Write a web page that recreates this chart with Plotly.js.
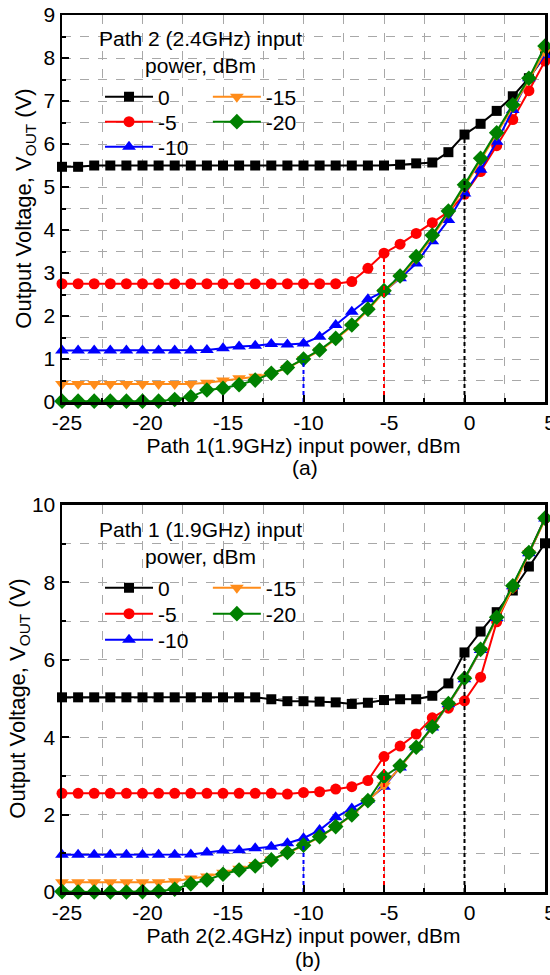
<!DOCTYPE html>
<html><head><meta charset="utf-8">
<script src="https://cdn.plot.ly/plotly-3.0.1.min.js"></script>
<style>html,body{margin:0;padding:0;background:#fff;} #chart{width:550px;height:975px;}</style>
</head><body><div id="chart"></div>
<script>
// Input power (dBm) on the x axis
const power = [-25,-24,-23,-22,-21,-20,-19,-18,-17,-16,-15,-14,-13,-12,-11,-10,-9,-8,-7,-6,-5,-4,-3,-2,-1,0,1,2,3,4,5];
const seriesNames = ['0','-5','-10','-15','-20'];
const xTickVals = [-25,-20,-15,-10,-5,0,5];
const xTickText = ['-25','-20','-15','-10','-5','0','5'];

// (a) Path 2 (2.4GHz) input power as parameter, sweep Path 1
const a0  = [5.47,5.47,5.50,5.50,5.50,5.50,5.50,5.50,5.50,5.50,5.50,5.50,5.50,5.50,5.50,5.50,5.50,5.50,5.50,5.50,5.50,5.52,5.55,5.57,5.81,6.22,6.47,6.77,7.11,7.53,8.05];
const a5  = [2.75,2.75,2.75,2.75,2.75,2.75,2.75,2.75,2.75,2.75,2.75,2.75,2.75,2.75,2.75,2.75,2.75,2.75,2.80,3.11,3.46,3.67,3.92,4.17,4.42,4.83,5.36,5.96,6.57,7.24,7.93];
const a10 = [1.20,1.20,1.20,1.20,1.20,1.20,1.20,1.20,1.20,1.21,1.25,1.29,1.31,1.35,1.34,1.36,1.52,1.79,2.10,2.39,2.57,2.88,3.22,3.74,4.23,4.85,5.40,6.05,6.79,7.53,8.07];
const a15 = [0.42,0.42,0.42,0.42,0.42,0.42,0.42,0.42,0.42,0.45,0.50,0.55,0.59,0.66,0.79,0.99,1.19,1.46,1.76,2.13,2.56,2.90,3.34,3.84,4.40,5.00,5.62,6.21,6.86,7.49,8.15];
const a20 = [0.02,0.02,0.02,0.02,0.02,0.02,0.02,0.06,0.12,0.28,0.32,0.40,0.51,0.67,0.80,1.00,1.21,1.48,1.79,2.16,2.59,2.93,3.38,3.88,4.44,5.05,5.67,6.26,6.91,7.53,8.28];

// (b) Path 1 (1.9GHz) input power as parameter, sweep Path 2
const b0  = [5.03,5.03,5.03,5.03,5.03,5.03,5.03,5.03,5.03,5.03,5.03,5.03,5.03,4.98,4.93,4.93,4.92,4.90,4.86,4.89,4.96,4.98,4.98,5.07,5.39,6.19,6.73,7.23,7.79,8.41,9.01];
const b5  = [2.55,2.55,2.55,2.55,2.55,2.55,2.55,2.55,2.55,2.55,2.55,2.55,2.55,2.55,2.53,2.57,2.59,2.66,2.72,2.88,3.50,3.77,4.08,4.50,4.75,4.94,5.55,6.98,7.88,8.78,9.65];
const b10 = [0.96,0.96,0.96,0.96,0.96,0.96,0.96,0.96,0.97,1.02,1.07,1.08,1.13,1.17,1.26,1.39,1.60,1.93,2.16,2.38,2.72,3.22,3.74,4.25,4.85,5.50,6.25,7.08,7.90,8.75,9.65];
const b15 = [0.25,0.25,0.25,0.25,0.25,0.25,0.25,0.28,0.35,0.40,0.50,0.60,0.70,0.84,1.00,1.20,1.42,1.68,1.98,2.35,2.75,3.22,3.72,4.25,4.85,5.50,6.25,7.05,7.85,8.75,9.62];
const b20 = [0.01,0.00,0.00,0.00,0.00,0.01,0.02,0.07,0.21,0.31,0.46,0.57,0.67,0.83,1.02,1.21,1.43,1.69,1.99,2.36,2.98,3.26,3.74,4.27,4.87,5.52,6.27,7.10,7.91,8.77,9.66];

// Reference guide lines: power where drawn, and the series whose value they reach
const guidePower  = [0, -5, -10];
const guideSeries = [0, 1, 4];
const guideColors = ['#000000','#ff0000','#0000ff'];

const colors  = ['#000000','#ff0000','#0000ff','#ff8c1a','#008000'];
const symbols = ['square','circle','triangle-up','triangle-down','diamond'];
const sizes   = [10,11,12,12,12];

const FONT = '"Liberation Sans",Arial,sans-serif';

// one legend box per entry so that rows can sit as in the original
const legendX   = [0.0787, 0.0787, 0.0787, 0.302, 0.302];
const legendYa  = [0.9065, 0.8780, 0.8495, 0.9065, 0.8780];
const legendYb  = [0.3466, 0.3170, 0.2873, 0.3466, 0.3170];

const traces = [];
const legends = {};
function addPanel(data, xa, ya, legOffset, legY) {
  data.forEach((ys, i) => {
    const n = legOffset + i + 1;
    const key = n === 1 ? 'legend' : 'legend' + n;
    legends[key] = {x: legendX[i], y: legY[i], xanchor: 'left', yanchor: 'middle',
      bgcolor: 'rgba(0,0,0,0)', borderwidth: 0, font: {size: 21}, itemwidth: 48};
    traces.push({
      x: power, y: ys, xaxis: xa, yaxis: ya, type: 'scatter', mode: 'lines+markers',
      name: seriesNames[i], legend: key,
      line: {color: colors[i], width: 2},
      marker: {symbol: symbols[i], size: sizes[i], color: colors[i]},
      cliponaxis: false
    });
  });
  guidePower.forEach((p, k) => {
    const idx = power.indexOf(p);
    traces.push({
      x: [p, p], y: [0, data[guideSeries[k]][idx]], xaxis: xa, yaxis: ya,
      type: 'scatter', mode: 'lines', showlegend: false, hoverinfo: 'skip',
      line: {color: guideColors[k], width: 2, dash: '4px,3px'}
    });
  });
}
addPanel([a0,a5,a10,a15,a20], 'x', 'y', 0, legendYa);
addPanel([b0,b5,b10,b15,b20], 'x2', 'y2', 5, legendYb);

const gridCol = '#a8a8a8';
function xAxis(anchor, title) {
  return {
    anchor: anchor, domain: [0, 1], range: [-25, 5],
    tickmode: 'array', tickvals: xTickVals, ticktext: xTickText,
    ticks: 'inside', ticklen: 7, tickwidth: 2, tickcolor: '#000',
    ticklabeloverflow: 'allow', ticklabelshift: 5,
    showline: true, linewidth: 2.5, linecolor: '#000', mirror: true,
    showgrid: true, gridcolor: gridCol, griddash: 'dash', gridwidth: 1, zeroline: false,
    minor: {tickmode: 'linear', tick0: 0, dtick: 2.5, ticks: 'inside', ticklen: 4, tickwidth: 2, tickcolor: '#000', showgrid: true, gridcolor: gridCol, griddash: 'dash', gridwidth: 1},
    tickfont: {size: 21}, title: {text: title, font: {size: 21}, standoff: 0}
  };
}
function yAxis(anchor, domain, range, dtick, mdtick, standoff) {
  return {
    anchor: anchor, domain: domain, range: range, dtick: dtick,
    ticks: 'inside', ticklen: 7, tickwidth: 2, tickcolor: '#000',
    showline: true, linewidth: 2.5, linecolor: '#000', mirror: true,
    showgrid: true, gridcolor: gridCol, griddash: 'dash', gridwidth: 1, zeroline: false,
    minor: {dtick: mdtick, ticks: 'inside', ticklen: 4, tickwidth: 2, tickcolor: '#000', showgrid: true, gridcolor: gridCol, griddash: 'dash', gridwidth: 1},
    tickfont: {size: 21}, title: {text: 'Output Voltage, V<sub>OUT</sub> (V)', font: {size: 22}, standoff: standoff}
  };
}

const layout = Object.assign({
  width: 550, height: 975,
  margin: {l: 62, r: 5, t: 15, b: 83},
  paper_bgcolor: '#fff', plot_bgcolor: '#fff',
  font: {family: FONT, size: 21, color: '#000'},
  showlegend: true,
  xaxis: xAxis('y', 'Path 1(1.9GHz) input power, dBm'),
  yaxis: yAxis('x', [0.5587, 1], [0, 9], 1, 0.5, 6),
  xaxis2: xAxis('y2', 'Path 2(2.4GHz) input power, dBm'),
  yaxis2: yAxis('x2', [0, 0.4413], [0, 10], 2, 1, 0),
  annotations: [
    {text: 'Path 2 (2.4GHz) input<br>power, dBm', xref: 'paper', yref: 'paper', x: 0.286, y: 0.958, xanchor: 'center', yanchor: 'middle', showarrow: false, font: {size: 21}},
    {text: 'Path 1 (1.9GHz) input<br>power, dBm', xref: 'paper', yref: 'paper', x: 0.286, y: 0.398, xanchor: 'center', yanchor: 'middle', showarrow: false, font: {size: 21}},
    {text: '(a)', xref: 'paper', yref: 'paper', x: 0.503, y: 0.4835, xanchor: 'center', yanchor: 'middle', showarrow: false, font: {size: 21}},
    {text: '(b)', xref: 'paper', yref: 'paper', x: 0.51, y: -0.0775, xanchor: 'center', yanchor: 'middle', showarrow: false, font: {size: 21}}
  ]
}, legends);

Plotly.newPlot('chart', traces, layout, {displayModeBar: false, staticPlot: true});
</script>
</body></html>
